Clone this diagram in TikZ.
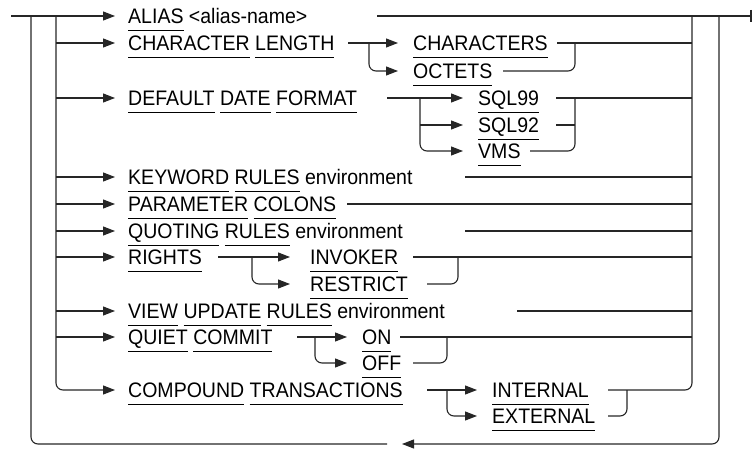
\documentclass[tikz,border=0pt]{standalone}
\usepackage{fontspec}
\setmainfont{Liberation Sans}[FakeStretch=0.93]
\usetikzlibrary{arrows.meta}
\newcommand\kw[1]{\setbox0\hbox{#1}\rlap{\rule[-7.2pt]{\wd0}{0.9pt}}\box0\relax}
\begin{document}
\begin{tikzpicture}[x=1pt,y=-1pt,
  rr/.style={draw=black!85, line width=1.1pt, rounded corners=7pt},
  arr/.style={-{Triangle[length=12pt,width=9pt]}},
  lbl/.style={anchor=base west, inner sep=0pt, font=\fontsize{21}{24}\selectfont, text=black}]
\useasboundingbox (0,0) rectangle (752,449);
% coordinates
\coordinate (start) at (11,16);
\coordinate (end) at (750,16);
\coordinate (lo) at (31,16);
\coordinate (li) at (56,16);
\coordinate (ri) at (692,16);
\coordinate (ro) at (719,16);
% text
\node[lbl] (tA)  at (128,23.5)  {\kw{ALIAS} <alias-name>};
\node[lbl] (tCL) at (128,50.5)  {\kw{CHARACTER} \kw{LENGTH}};
\node[lbl] (tCs) at (413,50.5)  {\kw{CHARACTERS}};
\node[lbl] (tOc) at (413,78.5)  {\kw{OCTETS}};
\node[lbl] (tDD) at (128,105.5) {\kw{DEFAULT} \kw{DATE} \kw{FORMAT}};
\node[lbl] (tS9) at (478,105.5) {\kw{SQL99}};
\node[lbl] (tS2) at (478,132.5) {\kw{SQL92}};
\node[lbl] (tVM) at (478,158.5) {\kw{VMS}};
\node[lbl] (tKR) at (128,184.5) {\kw{KEYWORD} \kw{RULES} environment};
\node[lbl] (tPC) at (128,211.5) {\kw{PARAMETER} \kw{COLONS}};
\node[lbl] (tQR) at (128,238.5) {\kw{QUOTING} \kw{RULES} environment};
\node[lbl] (tRi) at (128,264.5) {\kw{RIGHTS}};
\node[lbl] (tIn) at (310,264.5) {\kw{INVOKER}};
\node[lbl] (tRe) at (310,291.5) {\kw{RESTRICT}};
\node[lbl] (tVU) at (128,318.5) {\kw{VIEW} \kw{UPDATE} \kw{RULES} environment};
\node[lbl] (tQC) at (128,344.5) {\kw{QUIET} \kw{COMMIT}};
\node[lbl] (tOn) at (362,344.5) {\kw{ON}};
\node[lbl] (tOf) at (362,370.5) {\kw{OFF}};
\node[lbl] (tCT) at (128,397.5) {\kw{COMPOUND} \kw{TRANSACTIONS}};
\node[lbl] (tIt) at (492,397.5) {\kw{INTERNAL}};
\node[lbl] (tEx) at (492,423.5) {\kw{EXTERNAL}};
% main line
\draw[rr,arr] (start) -- (115,16);
\draw[rr] (377,16) -- (end);
\draw[line width=2pt, draw=black!85] (750.5,10) -- (750.5,22);
% outer loop
\draw[rr] (lo) |- (387,444);
\draw[rr,arr] (ro) |- (402,444);
% inner left
\draw[rr,arr] (li) |- (115,390);
\foreach \y in {43,98,177,204,231,257,311,337}
  \draw[rr,arr] (56,\y) -- (115,\y);
% row 1
\draw[rr,arr] (348,43) -- (398,43);
\draw[rr,arr] (369,43) |- (398,71);
\draw[rr] (557,43) -- (692,43);
\draw[rr] (503,71) -| (575,43);
% row 3
\draw[rr,arr] (387,98) -- (463,98);
\draw[rr,arr] (420,98) |- (463,151);
\draw[rr,arr] (420,125) -- (463,125);
\draw[rr] (556,98) -- (692,98);
\draw[rr] (556,125) -- (575,125);
\draw[rr] (530,151) -| (575,98);
% simple rows
\draw[rr] (465,177) -- (692,177);
\draw[rr] (347,204) -- (692,204);
\draw[rr] (465,231) -- (692,231);
\draw[rr] (517,311) -- (692,311);
% rights
\draw[rr,arr] (218,257) -- (290,257);
\draw[rr,arr] (252,257) |- (290,284);
\draw[rr] (413,257) -- (692,257);
\draw[rr] (427,284) -| (458,257);
% quiet commit
\draw[rr,arr] (297,337) -- (347,337);
\draw[rr,arr] (315,337) |- (347,363);
\draw[rr] (400,337) -- (692,337);
\draw[rr] (413,363) -| (447,337);
% compound
\draw[rr,arr] (427,390) -- (477,390);
\draw[rr,arr] (447,390) |- (477,416);
\draw[rr] (608,390) -| (ri);
\draw[rr] (608,416) -| (627,390);
\end{tikzpicture}
\end{document}
